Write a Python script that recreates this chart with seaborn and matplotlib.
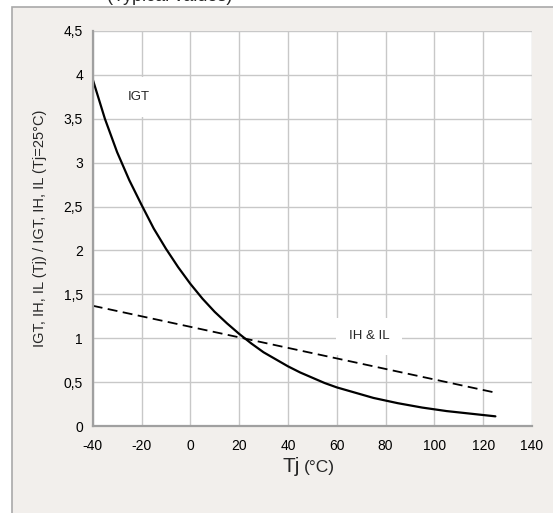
import numpy as np
import pandas as pd
import seaborn as sns
import matplotlib.pyplot as plt
from matplotlib.patches import Rectangle

# values (relative to Tj = 25 C), every 5 C
tj = [-40, -35, -30, -25, -20, -15, -10, -5, 0, 5, 10, 15, 20, 25, 30, 35, 40, 45, 50,
      55, 60, 65, 70, 75, 80, 85, 90, 95, 100, 105, 110, 115, 120, 125]
igt = [3.95, 3.50, 3.12, 2.80, 2.52, 2.25, 2.02, 1.81, 1.62, 1.45, 1.30, 1.17, 1.05, 0.94,
       0.84, 0.76, 0.68, 0.61, 0.55, 0.49, 0.44, 0.40, 0.36, 0.32, 0.29, 0.26, 0.235, 0.21,
       0.19, 0.17, 0.155, 0.14, 0.125, 0.11]
ih_il = [1.37, 1.34, 1.31, 1.28, 1.25, 1.22, 1.19, 1.16, 1.13, 1.10, 1.07, 1.04, 1.01, 0.98,
         0.95, 0.92, 0.89, 0.86, 0.83, 0.80, 0.77, 0.74, 0.71, 0.68, 0.65, 0.62, 0.59, 0.56,
         0.53, 0.50, 0.47, 0.44, 0.41, 0.38]

x_ticks = [-40, -20, 0, 20, 40, 60, 80, 100, 120, 140]
y_ticks = [0, 0.5, 1, 1.5, 2, 2.5, 3, 3.5, 4, 4.5]
y_labels = ['0', '0,5', '1', '1,5', '2', '2,5', '3', '3,5', '4', '4,5']

df = pd.DataFrame({'Tj': tj, 'IGT': igt, 'IH & IL': ih_il})

sns.set_style("white")
plt.rcParams['font.family'] = ['Liberation Sans', 'DejaVu Sans']
plt.rcParams['axes.unicode_minus'] = False

W, H = 553, 513
fig = plt.figure(figsize=(W / 100, H / 100), dpi=100)
fig.patch.set_facecolor('white')

# grey panel behind the chart
panel = Rectangle((11.5 / W, -0.05), 1.1, 1 - 6.5 / H + 0.05, transform=fig.transFigure,
                  facecolor='#f2efec', edgecolor='#a9a9a9', linewidth=1.2, zorder=-5)
fig.patches.append(panel)

ax = fig.add_axes([92.7 / W, 1 - 426 / H, (532 - 92.7) / W, (426 - 31) / H])
ax.set_zorder(2)
ax.set_facecolor('white')

sns.lineplot(data=df, x='Tj', y='IGT', ax=ax, color='black', linewidth=1.6)
sns.lineplot(data=df, x='Tj', y='IH & IL', ax=ax, color='black', linewidth=1.3,
             linestyle=(0, (5.5, 3)))

ax.set_xlim(-40, 140)
ax.set_ylim(0, 4.5)
ax.set_xticks(x_ticks)
ax.set_yticks(y_ticks)
ax.set_yticklabels(y_labels)
ax.grid(True, color='#c8c8c8', linewidth=1.0)
ax.set_axisbelow(True)
for s in ['top', 'right']:
    ax.spines[s].set_visible(False)
for s in ['left', 'bottom']:
    ax.spines[s].set_color('#a0a0a0')
    ax.spines[s].set_linewidth(1.6)
ax.tick_params(axis='both', direction='out', length=4, width=1, color='#a0a0a0',
               labelsize=10, labelcolor='black', pad=3)
ax.tick_params(axis='x', pad=5)

ax.set_xlabel('')
ax.set_ylabel('IGT, IH, IL (Tj) / IGT, IH, IL (Tj=25°C)', fontsize=10.5, labelpad=12)

ax.text(-25.5, 3.75, 'IGT', fontsize=9.5, ha='left', va='center',
        bbox=dict(facecolor='white', edgecolor='none', pad=10))
ax.text(65, 1.02, 'IH & IL', fontsize=9.5, ha='left', va='center',
        bbox=dict(facecolor='white', edgecolor='none', pad=9))

fig.text(300 / W, 1 - 472 / H, 'Tj', fontsize=15, ha='right', va='baseline')
fig.text(304 / W, 1 - 472 / H, '(°C)', fontsize=12.5, ha='left', va='baseline')

fig.text(170 / W, 1 - 1 / H, '(Typical values)', fontsize=13, ha='center', va='baseline')

plt.savefig('out.png', dpi=100)
